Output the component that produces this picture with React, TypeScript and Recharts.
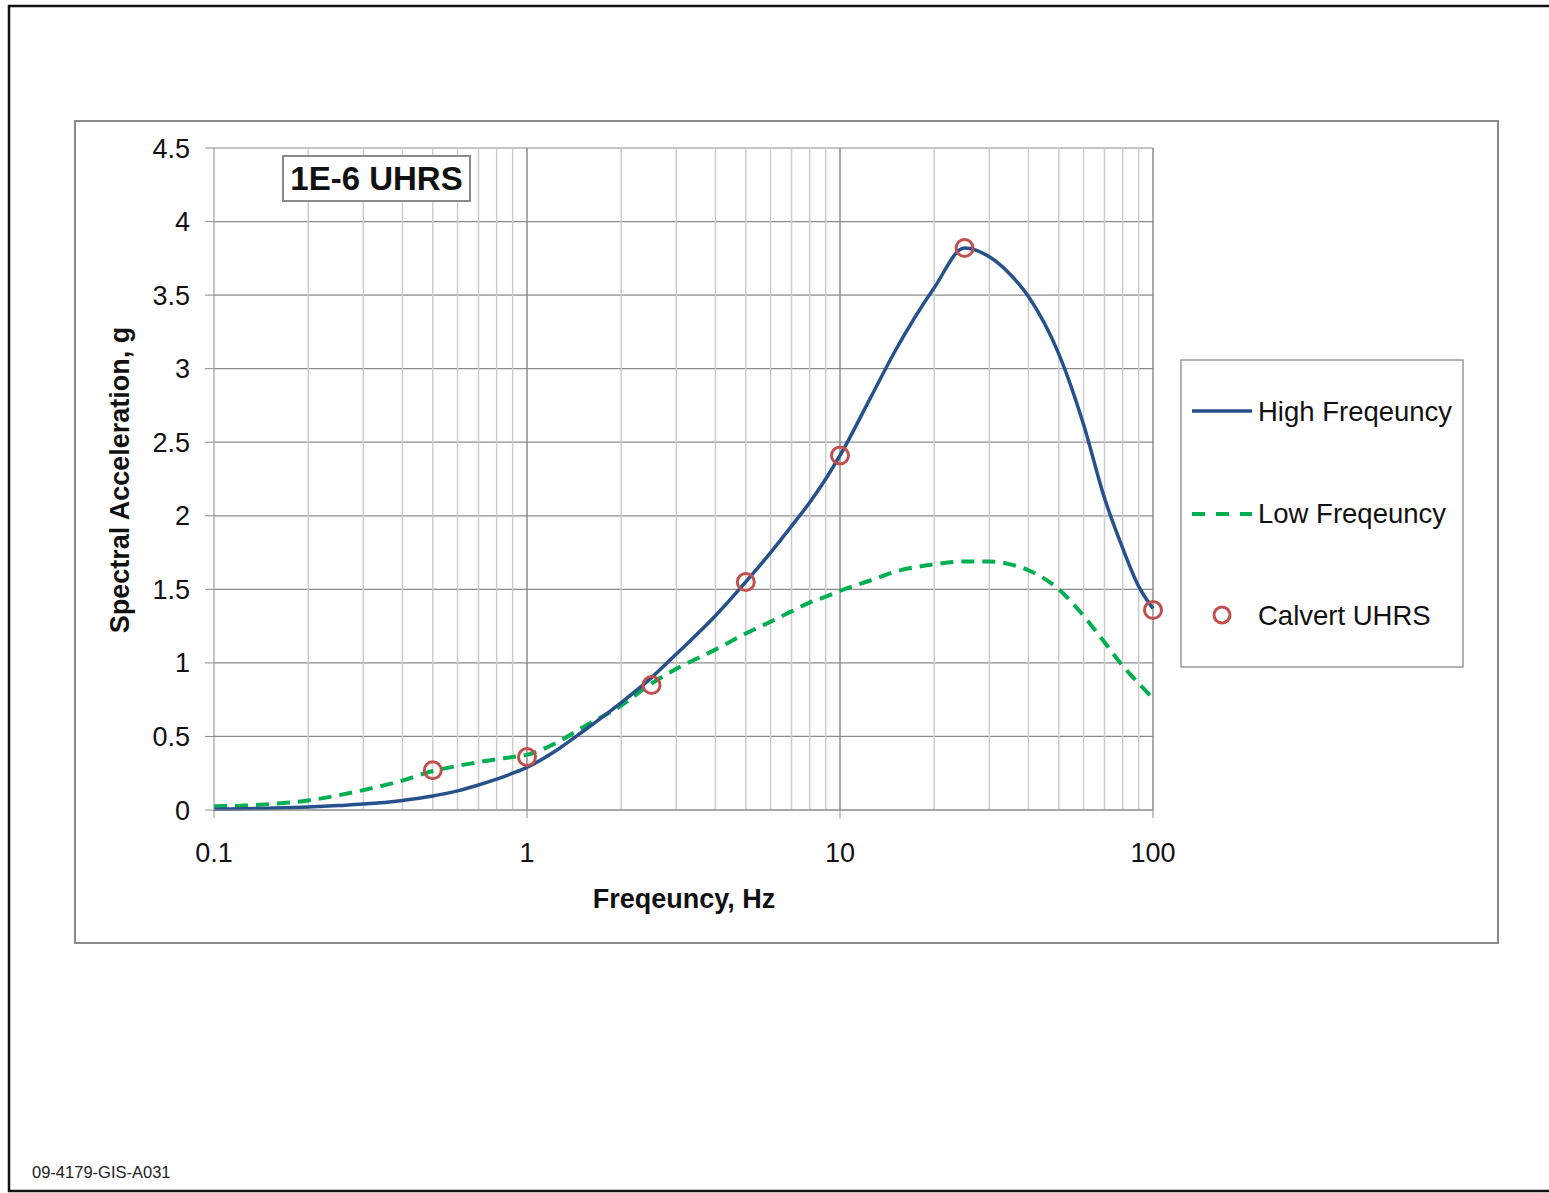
import {
  ComposedChart,
  Line,
  Scatter,
  XAxis,
  YAxis,
  CartesianGrid,
  ReferenceLine,
} from "recharts";

// frequency sampling used by both spectra (Hz)
const freqs = [
  0.1, 0.125, 0.15, 0.2, 0.25, 0.3, 0.4, 0.5, 0.6, 0.7, 0.8, 0.9, 1, 1.25, 1.5,
  2, 2.5, 3, 4, 5, 6, 7, 8, 9, 10, 12.5, 15, 20, 25, 30, 35, 40, 50, 60, 70, 80,
  90, 100,
];

const highFreqValues = [
  0.005, 0.008, 0.012, 0.02, 0.03, 0.04, 0.065, 0.095, 0.13, 0.17, 0.21, 0.25,
  0.29, 0.41, 0.53, 0.73, 0.9, 1.06, 1.32, 1.55, 1.75, 1.93, 2.09, 2.25, 2.41,
  2.8, 3.12, 3.55, 3.82, 3.76, 3.64, 3.49, 3.1, 2.62, 2.12, 1.78, 1.52, 1.37,
];

const lowFreqValues = [
  0.025, 0.03, 0.04, 0.065, 0.1, 0.135, 0.2, 0.265, 0.3, 0.325, 0.345, 0.36,
  0.375, 0.46, 0.56, 0.71, 0.86, 0.96, 1.09, 1.2, 1.28, 1.35, 1.41, 1.45, 1.49,
  1.56, 1.62, 1.67, 1.69, 1.69, 1.67, 1.63, 1.5, 1.32, 1.14, 0.98, 0.86, 0.76,
];

const calvertFreqs = [0.5, 1, 2.5, 5, 10, 25, 100];
const calvertValues = [0.27, 0.36, 0.85, 1.55, 2.41, 3.82, 1.36];

const xTicks = [0.1, 1, 10, 100];
const yTicks = [0, 0.5, 1, 1.5, 2, 2.5, 3, 3.5, 4, 4.5];
const majorX = [1, 10, 100];
const minorX = [
  0.2, 0.3, 0.4, 0.5, 0.6, 0.7, 0.8, 0.9, 2, 3, 4, 5, 6, 7, 8, 9, 20, 30, 40,
  50, 60, 70, 80, 90,
];

const highData = freqs.map((f, i) => ({ f, v: highFreqValues[i] }));
const lowData = freqs.map((f, i) => ({ f, v: lowFreqValues[i] }));
const calvertData = calvertFreqs.map((f, i) => ({ f, v: calvertValues[i] }));

const FONT = "'Liberation Sans', Arial, sans-serif";
const BLUE = "#26518c";
const GREEN = "#00b050";
const RED = "#c0504d";

const Ring = (props: any) => {
  const { cx, cy } = props;
  if (cx == null || cy == null) return null;
  return <circle cx={cx} cy={cy} r={8.5} fill="none" stroke={RED} strokeWidth={3} />;
};

export default function App() {
  const tickStyle = { fontSize: 27, fill: "#111", fontFamily: FONT };

  return (
    <div style={{ position: "absolute", left: 0, top: 0, width: 1549, height: 1193, background: "#fff" }}>
      <ComposedChart
        width={1549}
        height={1193}
        margin={{ top: 148, right: 396, bottom: 343, left: 154 }}
      >
        <CartesianGrid vertical={false} stroke="#8c8c8c" strokeWidth={1.2} />
        {minorX.map((x) => (
          <ReferenceLine key={"m" + x} x={x} stroke="#cdcdcd" strokeWidth={1.5} zIndex={-50} />
        ))}
        {majorX.map((x) => (
          <ReferenceLine key={"M" + x} x={x} stroke="#8c8c8c" strokeWidth={1.5} zIndex={-40} />
        ))}
        <XAxis
          dataKey="f"
          type="number"
          scale="log"
          domain={[0.1, 100]}
          ticks={xTicks}
          height={40}
          stroke="#8c8c8c"
          tickSize={8}
          tickMargin={25}
          tick={tickStyle}
        />
        <YAxis
          dataKey="v"
          type="number"
          domain={[0, 4.5]}
          ticks={yTicks}
          width={60}
          stroke="#8c8c8c"
          tickSize={9}
          tickMargin={15}
          tick={tickStyle}
        />
        <Line
          data={lowData}
          dataKey="v"
          type="monotone"
          stroke={GREEN}
          strokeWidth={4}
          strokeDasharray="13 8"
          dot={false}
          isAnimationActive={false}
        />
        <Line
          data={highData}
          dataKey="v"
          type="monotone"
          stroke={BLUE}
          strokeWidth={3.5}
          dot={false}
          isAnimationActive={false}
        />
        <Scatter data={calvertData} dataKey="v" shape={<Ring />} isAnimationActive={false} />
      </ComposedChart>

      <svg
        width={1549}
        height={1193}
        style={{ position: "absolute", left: 0, top: 0, pointerEvents: "none" }}
      >
        {/* outer page frame */}
        <rect x={9} y={6} width={1545} height={1185} fill="none" stroke="#111" strokeWidth={2.5} />
        {/* chart area frame */}
        <rect x={75} y={121} width={1423} height={822} fill="none" stroke="#8a8a8a" strokeWidth={2} />

        {/* title box */}
        <rect x={283} y={156} width={187} height={45} fill="#fff" stroke="#8a8a8a" strokeWidth={2} />
        <text x={376.5} y={190} textAnchor="middle" fontFamily={FONT} fontWeight="bold" fontSize={33} fill="#111">
          1E-6 UHRS
        </text>

        {/* axis titles */}
        <text x={684} y={908} textAnchor="middle" fontFamily={FONT} fontWeight="bold" fontSize={27} fill="#111">
          Freqeuncy, Hz
        </text>
        <text
          transform="translate(129,480) rotate(-90)"
          textAnchor="middle"
          fontFamily={FONT}
          fontWeight="bold"
          fontSize={27}
          fill="#111"
        >
          Spectral Acceleration, g
        </text>

        {/* legend */}
        <rect x={1181} y={360} width={282} height={307} fill="#fff" stroke="#9a9a9a" strokeWidth={1.5} />
        <line x1={1192} y1={411} x2={1252} y2={411} stroke={BLUE} strokeWidth={3.5} />
        <text x={1258} y={421} fontFamily={FONT} fontSize={27.5} fill="#111">High Freqeuncy</text>
        <line x1={1192} y1={514} x2={1252} y2={514} stroke={GREEN} strokeWidth={4} strokeDasharray="13 11" />
        <text x={1258} y={523} fontFamily={FONT} fontSize={27.5} fill="#111">Low Freqeuncy</text>
        <circle cx={1222} cy={615} r={8} fill="none" stroke={RED} strokeWidth={3} />
        <text x={1258} y={625} fontFamily={FONT} fontSize={27.5} fill="#111">Calvert UHRS</text>

        {/* drawing number */}
        <text x={32} y={1178} fontFamily={FONT} fontSize={16.5} fill="#222">09-4179-GIS-A031</text>
      </svg>
    </div>
  );
}
